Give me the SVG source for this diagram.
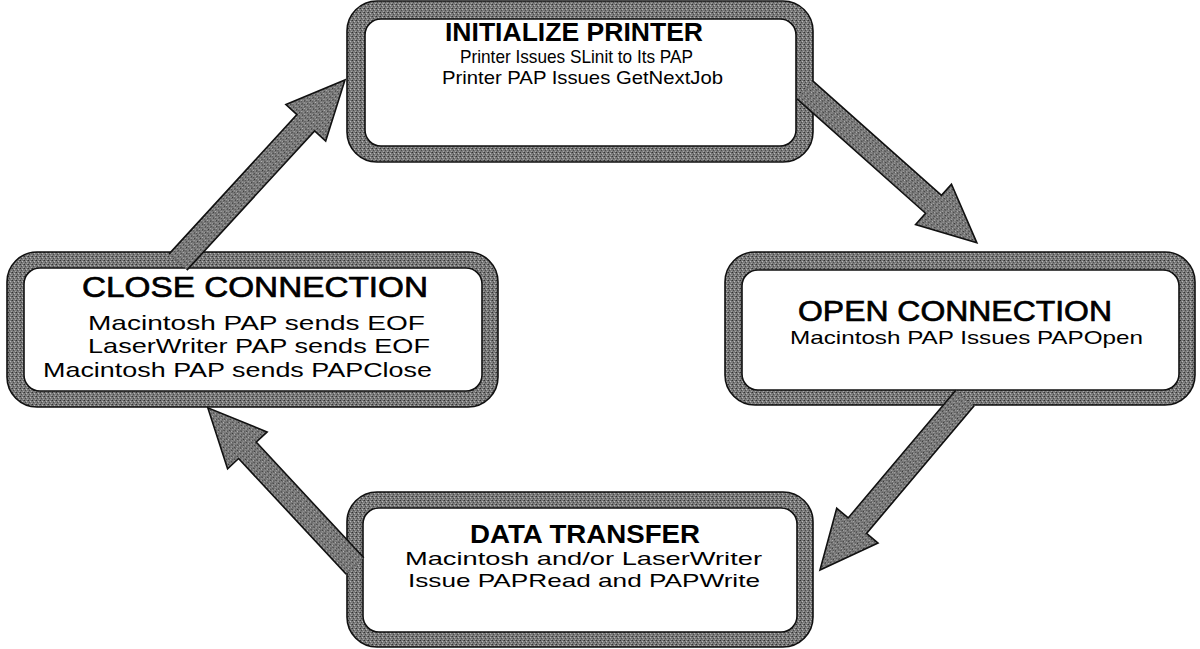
<svg xmlns="http://www.w3.org/2000/svg" width="1200" height="649" viewBox="0 0 1200 649">
<defs>
<pattern id="stip" width="4" height="4" patternUnits="userSpaceOnUse">
<rect width="4" height="4" fill="#7a7a7a"/>
<rect x="0" y="0" width="1" height="1" fill="#333"/>
<rect x="2" y="1" width="1" height="1" fill="#b8b8b8"/>
<rect x="1" y="2" width="1" height="1" fill="#4a4a4a"/>
<rect x="3" y="3" width="1" height="1" fill="#a5a5a5"/>
<rect x="3" y="0" width="1" height="1" fill="#5a5a5a"/>
</pattern>
<style>
.band{fill:url(#stip);stroke:#111;stroke-width:1.6}
.inner{fill:#fff;stroke:#111;stroke-width:1.6}
.arrow{fill:url(#stip);stroke:#111;stroke-width:1.6;stroke-linejoin:miter}
text{font-family:"Liberation Sans",Arial,sans-serif;fill:#000}
.t1{font-size:26px;font-weight:bold}
.t2{font-size:30px;stroke:#000;stroke-width:0.7}
.s{font-size:19px}
.c{font-size:21px}
</style>
</defs>
<rect width="1200" height="649" fill="#fff"/>

<g id="init-printer">
<rect class="band" x="347" y="1" width="466" height="161" rx="30"/>
<rect class="inner" x="365" y="19" width="431" height="127" rx="16"/>
<text class="t1" x="445" y="41" textLength="258" lengthAdjust="spacingAndGlyphs">INITIALIZE PRINTER</text>
<text class="s" x="460" y="63" textLength="233" lengthAdjust="spacingAndGlyphs">Printer Issues SLinit to Its PAP</text>
<text class="s" x="442" y="84" textLength="281" lengthAdjust="spacingAndGlyphs">Printer PAP Issues GetNextJob</text>
</g>

<g id="open-connection">
<rect class="band" x="725" y="252" width="470" height="153" rx="30"/>
<rect class="inner" x="742" y="270" width="437" height="120" rx="16"/>
<text class="t2" x="798" y="321" textLength="314" lengthAdjust="spacingAndGlyphs">OPEN CONNECTION</text>
<text class="s" x="790" y="344" textLength="353" lengthAdjust="spacingAndGlyphs">Macintosh PAP Issues PAPOpen</text>
</g>

<g id="data-transfer">
<rect class="band" x="347" y="492" width="466" height="155" rx="30"/>
<rect class="inner" x="363" y="508" width="434" height="124" rx="16"/>
<text class="t1" x="470" y="543" textLength="230" lengthAdjust="spacingAndGlyphs">DATA TRANSFER</text>
<text class="s" x="405" y="565" textLength="357" lengthAdjust="spacingAndGlyphs">Macintosh and/or LaserWriter</text>
<text class="s" x="408" y="587" textLength="352" lengthAdjust="spacingAndGlyphs">Issue PAPRead and PAPWrite</text>
</g>

<g id="close-connection">
<rect class="band" x="7" y="252" width="491" height="155" rx="30"/>
<rect class="inner" x="24" y="268" width="458" height="123" rx="16"/>
<text class="t2" x="82" y="297" textLength="346" lengthAdjust="spacingAndGlyphs">CLOSE CONNECTION</text>
<text class="c" x="88" y="330" textLength="337" lengthAdjust="spacingAndGlyphs">Macintosh PAP sends EOF</text>
<text class="c" x="88" y="353" textLength="342" lengthAdjust="spacingAndGlyphs">LaserWriter PAP sends EOF</text>
<text class="c" x="43" y="377" textLength="389" lengthAdjust="spacingAndGlyphs">Macintosh PAP sends PAPClose</text>
</g>

<g id="connectors">
<path class="arrow" transform="translate(178,262) rotate(-47.46)" d="M0,-12 L189,-12 L189,-27 L247,0 L189,27 L189,12 L0,12"/>
<path class="arrow" transform="translate(805,90) rotate(41.65)" d="M0,-12 L172,-12 L172,-27 L230,0 L172,27 L172,12 L0,12"/>
<path class="arrow" transform="translate(965,398) rotate(130.13)" d="M0,-12 L167,-12 L167,-27 L225,0 L167,27 L167,12 L0,12"/>
<path class="arrow" transform="translate(355,566) rotate(-132.94)" d="M0,-12 L158,-12 L158,-27 L216,0 L158,27 L158,12 L0,12"/>
</g>
</svg>
